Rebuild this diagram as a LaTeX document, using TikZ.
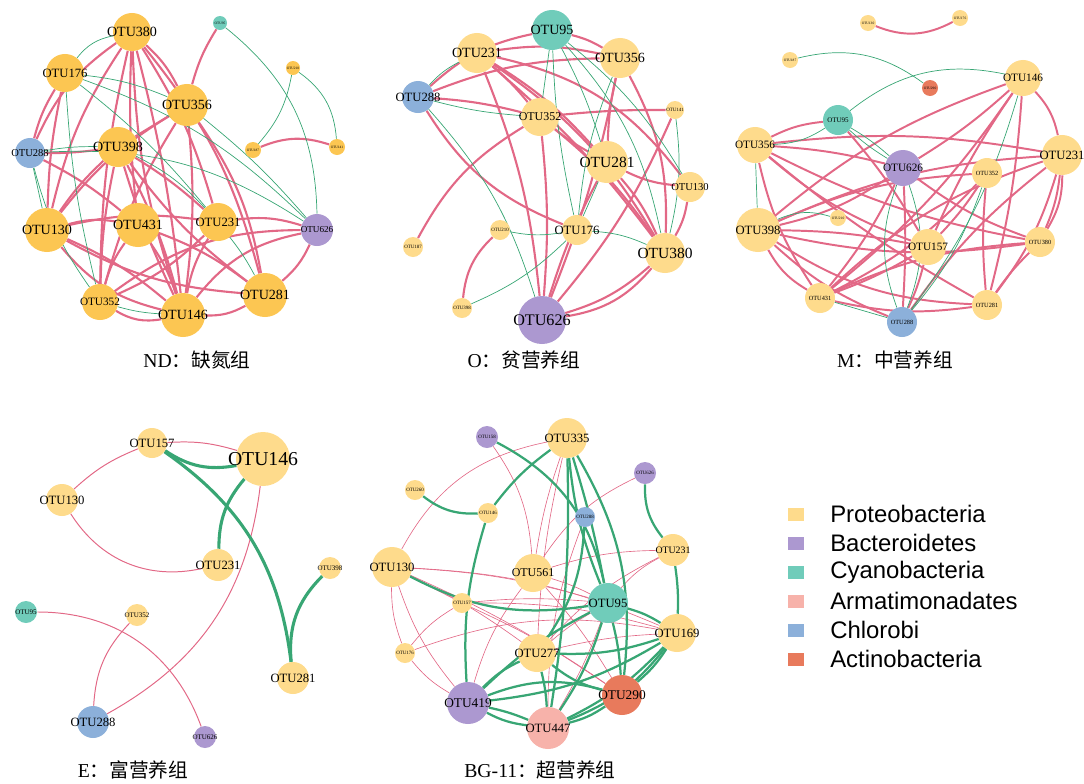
\documentclass[tikz,border=0pt]{standalone}
\usepackage{fontspec}
\setmainfont{Liberation Serif}
\newfontfamily\cjk{Noto Sans CJK SC}
\newfontfamily\legendfont{Liberation Sans}
\usetikzlibrary{backgrounds}

\definecolor{protND}{RGB}{252,198,82}
\definecolor{protL}{RGB}{254,219,140}
\definecolor{bactC}{RGB}{172,152,208}
\definecolor{cyanoC}{RGB}{112,204,186}
\definecolor{armaC}{RGB}{247,178,170}
\definecolor{chloC}{RGB}{140,176,218}
\definecolor{actiC}{RGB}{232,122,92}
\definecolor{linkpink}{RGB}{226,104,134}
\definecolor{linkgreen}{RGB}{56,166,116}

\begin{document}
\begin{tikzpicture}[
  x=0.025cm, y=-0.025cm,
  otu/.style={circle, inner sep=0pt, draw=none, minimum size=#1*0.25mm},
  proND/.style={otu=#1, fill=protND},
  proteo/.style={otu=#1, fill=protL},
  bactero/.style={otu=#1, fill=bactC},
  cyano/.style={otu=#1, fill=cyanoC},
  armati/.style={otu=#1, fill=armaC},
  chloro/.style={otu=#1, fill=chloC},
  actino/.style={otu=#1, fill=actiC},
  lab/.style={font=\fontsize{#1}{#1}\selectfont, inner sep=0pt},
  poslink/.style={draw=linkpink, line width=#1},
  poslink/.default=1.5pt,
  neglink/.style={draw=linkgreen, line width=#1},
  neglink/.default=0.5pt,
  caption/.style={font=\fontsize{14}{16}\selectfont},
  legsq/.style={draw=none, minimum width=16*0.25mm, minimum height=13*0.25mm, inner sep=0pt},
  legtxt/.style={anchor=west, inner sep=0pt, font=\legendfont\fontsize{17}{17}\selectfont}
]
\useasboundingbox (0,0) rectangle (1084,783);

% ---- ND panel
\node[proND=38, label={[lab=10]center:OTU380}] (nd380) at (132,32) {};
\node[proND=38, label={[lab=9]center:OTU176}] (nd176) at (65,73) {};
\node[proND=42, label={[lab=10]center:OTU356}] (nd356) at (187,105) {};
\node[proND=40, label={[lab=10]center:OTU398}] (nd398) at (118,147) {};
\node[chloro=30, label={[lab=7.5]center:OTU288}] (nd288) at (30,153) {};
\node[proND=44, label={[lab=10]center:OTU130}] (nd130) at (47,230) {};
\node[proND=44, label={[lab=10]center:OTU431}] (nd431) at (138,225) {};
\node[proND=38, label={[lab=9]center:OTU231}] (nd231) at (218,222) {};
\node[bactero=32, label={[lab=6.5]center:OTU626}] (nd626) at (317,230) {};
\node[proND=36, label={[lab=8]center:OTU352}] (nd352) at (100,302) {};
\node[proND=44, label={[lab=10]center:OTU146}] (nd146) at (183,315) {};
\node[proND=44, label={[lab=10]center:OTU281}] (nd281) at (265,295) {};
\node[cyano=14, label={[lab=2.5]center:OTU95}] (nd95) at (220,23) {};
\node[proND=14, label={[lab=2.5]center:OTU210}] (nd210) at (293,68) {};
\node[proND=16, label={[lab=2.5]center:OTU187}] (nd187) at (253,150) {};
\node[proND=16, label={[lab=2.5]center:OTU141}] (nd141) at (337,147) {};
\node[caption] (capND) at (197,360) {ND{\cjk ：缺氮组}};

\begin{scope}[on background layer]
  \draw[poslink] (nd380) to[bend right=10] (nd130);
  \draw[poslink] (nd380) to[bend right=4] (nd431);
  \draw[poslink] (nd380) to[bend left=4] (nd146);
  \draw[poslink] (nd380) to[bend right=8] (nd146);
  \draw[poslink] (nd380) to[bend right=6] (nd352);
  \draw[poslink] (nd380) to[bend left=12] (nd281);
  \draw[poslink] (nd380) to[bend left=8] (nd231);
  \draw[poslink] (nd380) to[bend right=15] (nd288);
  \draw[poslink] (nd380) to[bend left=10] (nd356);
  \draw[poslink] (nd176) to[bend right=8] (nd288);
  \draw[poslink] (nd176) to[bend right=5] (nd130);
  \draw[poslink] (nd95) to[bend right=8] (nd356);
  \draw[poslink] (nd356) to (nd398);
  \draw[poslink] (nd356) to[bend right=10] (nd130);
  \draw[poslink] (nd356) to[bend right=8] (nd352);
  \draw[poslink] (nd356) to[bend left=6] (nd146);
  \draw[poslink] (nd356) to[bend left=12] (nd281);
  \draw[poslink] (nd398) to[bend left=4] (nd288);
  \draw[poslink] (nd398) to[bend right=6] (nd130);
  \draw[poslink] (nd398) to[bend left=6] (nd146);
  \draw[poslink] (nd398) to[bend right=4] (nd146);
  \draw[poslink] (nd398) to[bend right=8] (nd281);
  \draw[poslink] (nd398) to[bend left=5] (nd231);
  \draw[poslink] (nd398) to[bend right=5] (nd352);
  \draw[poslink] (nd130) to[bend left=12] (nd431);
  \draw[poslink] (nd130) to[bend left=10] (nd231);
  \draw[poslink] (nd130) to[bend right=12] (nd281);
  \draw[poslink] (nd130) to[bend right=18] (nd146);
  \draw[poslink] (nd130) to[bend left=8] (nd146);
  \draw[poslink] (nd431) to[bend left=8] (nd146);
  \draw[poslink] (nd431) to[bend left=8] (nd281);
  \draw[poslink] (nd431) to[bend right=10] (nd352);
  \draw[poslink] (nd231) to[bend left=10] (nd352);
  \draw[poslink] (nd231) to[bend left=12] (nd626);
  \draw[poslink] (nd231) to[bend right=10] (nd146);
  \draw[poslink] (nd281) to[bend right=12] (nd626);
  \draw[poslink] (nd352) to[bend left=18] (nd626);
  \draw[poslink] (nd146) to[bend left=20] (nd626);
  \draw[poslink] (nd352) to[bend right=20] (nd146);
  \draw[poslink] (nd146) to[bend right=15] (nd281);
  \draw[poslink] (nd187) to[bend left=20] (nd141);
  \draw[poslink] (nd288) to[bend left=6] (nd431);
  \draw[neglink] (nd380) to[bend right=20] (nd176);
  \draw[neglink] (nd176) to[bend left=8] (nd356);
  \draw[neglink] (nd176) to[bend left=6] (nd231);
  \draw[neglink] (nd176) to[bend left=12] (nd626);
  \draw[neglink] (nd176) to[bend right=5] (nd352);
  \draw[neglink] (nd288) to[bend left=5] (nd398);
  \draw[neglink] (nd288) to[bend left=18] (nd626);
  \draw[neglink] (nd288) to[bend right=10] (nd352);
  \draw[neglink] (nd288) to (nd130);
  \draw[neglink] (nd356) to[bend left=5] (nd626);
  \draw[neglink] (nd95) to[bend left=25] (nd626);
  \draw[neglink] (nd210) to[bend left=15] (nd187);
  \draw[neglink] (nd210) to[bend left=25] (nd141);
  \draw[neglink] (nd231) to[bend left=5] (nd281);
  \draw[neglink] (nd352) to[bend right=6] (nd146);
  \draw[neglink] (nd398) to[bend left=10] (nd231);
\end{scope}

% ---- O panel
\node[cyano=40, label={[lab=10]center:OTU95}] (o95) at (552,30) {};
\node[proteo=40, label={[lab=10]center:OTU231}] (o231) at (477,53) {};
\node[proteo=40, label={[lab=10]center:OTU356}] (o356) at (620,58) {};
\node[chloro=32, label={[lab=9]center:OTU288}] (o288) at (418,97) {};
\node[proteo=38, label={[lab=8.5]center:OTU352}] (o352) at (540,117) {};
\node[proteo=18, label={[lab=3.5]center:OTU141}] (o141) at (675,110) {};
\node[proteo=42, label={[lab=11]center:OTU281}] (o281) at (607,162) {};
\node[proteo=30, label={[lab=7.5]center:OTU130}] (o130) at (690,187) {};
\node[proteo=30, label={[lab=9]center:OTU176}] (o176) at (577,230) {};
\node[proteo=20, label={[lab=3.5]center:OTU210}] (o210) at (500,230) {};
\node[proteo=20, label={[lab=3.5]center:OTU187}] (o187) at (413,247) {};
\node[proteo=40, label={[lab=11]center:OTU380}] (o380) at (665,253) {};
\node[proteo=20, label={[lab=3.5]center:OTU398}] (o398) at (462,308) {};
\node[bactero=48, label={[lab=11.5]center:OTU626}] (o626) at (542,320) {};
\node[caption] (capO) at (524,360) {O{\cjk ：贫营养组}};

\begin{scope}[on background layer]
  \draw[poslink] (o231) to[bend left=10] (o356);
  \draw[poslink] (o231) to[bend left=8] (o281);
  \draw[poslink] (o231) to[bend left=12] (o380);
  \draw[poslink] (o231) to[bend left=6] (o380);
  \draw[poslink] (o231) to[bend left=8] (o626);
  \draw[poslink] (o231) to[bend left=20] (o130);
  \draw[poslink] (o231) to[bend left=5] (o352);
  \draw[poslink] (o95) to[bend right=15] (o288);
  \draw[poslink] (o95) to[bend left=8] (o356);
  \draw[poslink] (o288) to[bend left=5] (o352);
  \draw[poslink] (o288) to[bend right=18] (o176);
  \draw[poslink] (o288) to[bend left=10] (o356);
  \draw[poslink] (o352) to[bend right=15] (o187);
  \draw[poslink] (o352) to[bend left=5] (o626);
  \draw[poslink] (o352) to[bend left=8] (o380);
  \draw[poslink] (o352) to[bend left=3] (o141);
  \draw[poslink] (o352) to[bend right=5] (o281);
  \draw[poslink] (o356) to[bend left=5] (o626);
  \draw[poslink] (o356) to[bend left=15] (o380);
  \draw[poslink] (o356) to[bend right=5] (o281);
  \draw[poslink] (o281) to[bend right=5] (o626);
  \draw[poslink] (o281) to[bend left=8] (o380);
  \draw[poslink] (o281) to[bend right=10] (o130);
  \draw[poslink] (o130) to[bend left=10] (o380);
  \draw[poslink] (o380) to[bend left=12] (o626);
  \draw[poslink] (o380) to[bend left=20] (o626);
  \draw[poslink] (o210) to[bend right=20] (o398);
  \draw[poslink] (o141) to[bend left=8] (o626);
  \draw[neglink] (o95) to[bend right=5] (o176);
  \draw[neglink] (o95) to[bend left=5] (o281);
  \draw[neglink] (o95) to[bend left=10] (o130);
  \draw[neglink] (o95) to[bend left=15] (o380);
  \draw[neglink] (o95) to (o352);
  \draw[neglink] (o288) to[bend left=10] (o231);
  \draw[neglink] (o288) to[bend left=12] (o626);
  \draw[neglink] (o288) to[bend right=5] (o352);
  \draw[neglink] (o356) to[bend right=8] (o176);
  \draw[neglink] (o141) to[bend left=10] (o380);
  \draw[neglink] (o176) to[bend left=10] (o380);
  \draw[neglink] (o176) to[bend left=10] (o210);
  \draw[neglink] (o398) to[bend right=10] (o176);
  \draw[neglink] (o281) to (o176);
\end{scope}

% ---- M panel
\node[proteo=16, label={[lab=2.5]center:OTU130}] (m130) at (868,23) {};
\node[proteo=16, label={[lab=2.5]center:OTU176}] (m176) at (960,18) {};
\node[proteo=16, label={[lab=2.5]center:OTU187}] (m187) at (790,60) {};
\node[actino=16, label={[lab=2.5]center:OTU290}] (m290) at (930,88) {};
\node[cyano=30, label={[lab=5]center:OTU95}] (m95) at (838,120) {};
\node[proteo=36, label={[lab=8]center:OTU146}] (m146) at (1023,78) {};
\node[proteo=36, label={[lab=8]center:OTU356}] (m356) at (755,145) {};
\node[bactero=36, label={[lab=8]center:OTU626}] (m626) at (903,168) {};
\node[proteo=40, label={[lab=9]center:OTU231}] (m231) at (1062,155) {};
\node[proteo=30, label={[lab=4.5]center:OTU352}] (m352) at (987,173) {};
\node[proteo=16, label={[lab=2.5]center:OTU210}] (m210) at (838,218) {};
\node[proteo=44, label={[lab=9]center:OTU398}] (m398) at (758,230) {};
\node[proteo=36, label={[lab=8]center:OTU157}] (m157) at (928,247) {};
\node[proteo=30, label={[lab=4.5]center:OTU380}] (m380) at (1040,242) {};
\node[proteo=30, label={[lab=4.5]center:OTU431}] (m431) at (820,298) {};
\node[proteo=30, label={[lab=4.5]center:OTU281}] (m281) at (987,305) {};
\node[chloro=30, label={[lab=4.5]center:OTU288}] (m288) at (902,322) {};
\node[caption] (capM) at (895,360) {M{\cjk ：中营养组}};

\begin{scope}[on background layer]
  \draw[poslink=1.4pt] (m130) to[bend right=25] (m176);
  \draw[poslink=1.4pt] (m356) to[bend left=10] (m95);
  \draw[poslink=1.4pt] (m356) to[bend left=5] (m626);
  \draw[poslink=1.4pt] (m356) to[bend left=8] (m231);
  \draw[poslink=1.4pt] (m356) to[bend right=10] (m157);
  \draw[poslink=1.4pt] (m356) to[bend right=8] (m380);
  \draw[poslink=1.4pt] (m356) to[bend right=10] (m431);
  \draw[poslink=1.4pt] (m356) to[bend right=5] (m281);
  \draw[poslink=1.4pt] (m95) to[bend left=5] (m157);
  \draw[poslink=1.4pt] (m626) to[bend right=5] (m146);
  \draw[poslink=1.4pt] (m626) to[bend left=10] (m398);
  \draw[poslink=1.4pt] (m626) to[bend left=6] (m431);
  \draw[poslink=1.4pt] (m626) to[bend right=8] (m380);
  \draw[poslink=1.4pt] (m626) to[bend left=3] (m288);
  \draw[poslink=1.4pt] (m146) to[bend left=8] (m431);
  \draw[poslink=1.4pt] (m146) to[bend right=5] (m157);
  \draw[poslink=1.4pt] (m146) to[bend left=5] (m281);
  \draw[poslink=1.4pt] (m146) to[bend left=15] (m231);
  \draw[poslink=1.4pt] (m146) to[bend right=10] (m398);
  \draw[poslink=1.4pt] (m231) to[bend right=10] (m398);
  \draw[poslink=1.4pt] (m231) to[bend right=12] (m431);
  \draw[poslink=1.4pt] (m231) to[bend left=10] (m281);
  \draw[poslink=1.4pt] (m231) to[bend left=8] (m380);
  \draw[poslink=1.4pt] (m231) to[bend left=15] (m380);
  \draw[poslink=1.4pt] (m231) to[bend right=8] (m288);
  \draw[poslink=1.4pt] (m398) to[bend left=10] (m352);
  \draw[poslink=1.4pt] (m398) to[bend right=10] (m380);
  \draw[poslink=1.4pt] (m398) to[bend right=15] (m281);
  \draw[poslink=1.4pt] (m398) to[bend right=15] (m431);
  \draw[poslink=1.4pt] (m398) to[bend right=10] (m288);
  \draw[poslink=1.4pt] (m398) to[bend left=5] (m157);
  \draw[poslink=1.4pt] (m157) to[bend left=5] (m431);
  \draw[poslink=1.4pt] (m157) to[bend right=5] (m352);
  \draw[poslink=1.4pt] (m157) to[bend left=5] (m288);
  \draw[poslink=1.4pt] (m431) to[bend right=10] (m281);
  \draw[poslink=1.4pt] (m431) to[bend left=10] (m380);
  \draw[poslink=1.4pt] (m380) to[bend right=5] (m281);
  \draw[poslink=1.4pt] (m352) to[bend left=10] (m431);
  \draw[poslink=1.4pt] (m352) to[bend right=5] (m281);
  \draw[neglink] (m187) to[bend left=25] (m290);
  \draw[neglink] (m95) to[bend left=25] (m146);
  \draw[neglink] (m95) to[bend left=15] (m356);
  \draw[neglink] (m95) to[bend left=5] (m626);
  \draw[neglink] (m95) to[bend right=5] (m626);
  \draw[neglink] (m398) to[bend left=20] (m210);
  \draw[neglink] (m356) to (m398);
  \draw[neglink] (m626) to[bend right=20] (m288);
  \draw[neglink] (m626) to[bend left=20] (m288);
  \draw[neglink] (m431) to (m288);
  \draw[neglink] (m352) to[bend left=10] (m288);
  \draw[neglink] (m146) to[bend left=10] (m288);
\end{scope}

% ---- E panel
\node[proteo=30, label={[lab=9]center:OTU157}] (e157) at (152,443) {};
\node[proteo=54, label={[lab=14]center:OTU146}] (e146) at (263,459) {};
\node[proteo=32, label={[lab=9]center:OTU130}] (e130) at (62,500) {};
\node[proteo=32, label={[lab=9]center:OTU231}] (e231) at (218,565) {};
\node[proteo=22, label={[lab=5]center:OTU398}] (e398) at (330,568) {};
\node[cyano=22, label={[lab=5]center:OTU95}] (e95) at (26,612) {};
\node[proteo=22, label={[lab=5]center:OTU352}] (e352) at (137,615) {};
\node[proteo=32, label={[lab=9]center:OTU281}] (e281) at (293,678) {};
\node[chloro=32, label={[lab=9]center:OTU288}] (e288) at (93,722) {};
\node[bactero=22, label={[lab=5]center:OTU626}] (e626) at (205,737) {};
\node[caption] (capE) at (133,770) {E{\cjk ：富营养组}};

\begin{scope}[on background layer]
  \draw[poslink=0.7pt] (e157) to[bend left=10] (e146);
  \draw[poslink=0.7pt] (e157) to[bend right=10] (e130);
  \draw[poslink=0.7pt] (e130) to[bend right=35] (e231);
  \draw[poslink=0.7pt] (e146) to[bend left=27] (e288);
  \draw[poslink=0.7pt] (e95) to[bend left=35] (e626);
  \draw[poslink=0.7pt] (e352) to[bend right=20] (e288);
  \draw[neglink=2.2pt] (e157) to[bend right=22] (e146);
  \draw[neglink=2.2pt] (e146) to[bend right=20] (e231);
  \draw[neglink=2.2pt] (e157) to[bend left=24] (e281);
  \draw[neglink=2.2pt] (e398) to[bend right=25] (e281);
\end{scope}

% ---- BG-11 panel
\node[bactero=22, label={[lab=3.5]center:OTU158}] (bg158) at (487,437) {};
\node[proteo=40, label={[lab=9]center:OTU335}] (bg335) at (567,438) {};
\node[bactero=22, label={[lab=3.5]center:OTU626}] (bg626) at (645,473) {};
\node[proteo=20, label={[lab=3.5]center:OTU260}] (bg260) at (415,490) {};
\node[proteo=20, label={[lab=3.5]center:OTU146}] (bg146) at (488,513) {};
\node[chloro=20, label={[lab=3.5]center:OTU288}] (bg288) at (585,517) {};
\node[proteo=40, label={[lab=9]center:OTU130}] (bg130) at (392,567) {};
\node[proteo=38, label={[lab=8.5]center:OTU561}] (bg561) at (533,573) {};
\node[proteo=32, label={[lab=7]center:OTU231}] (bg231) at (673,550) {};
\node[cyano=40, label={[lab=9]center:OTU95}] (bg95) at (608,603) {};
\node[proteo=20, label={[lab=3.5]center:OTU157}] (bg157) at (462,603) {};
\node[proteo=38, label={[lab=9]center:OTU169}] (bg169) at (677,633) {};
\node[proteo=20, label={[lab=3.5]center:OTU176}] (bg176) at (405,653) {};
\node[proteo=38, label={[lab=9]center:OTU277}] (bg277) at (537,653) {};
\node[actino=40, label={[lab=9.5]center:OTU290}] (bg290) at (622,695) {};
\node[bactero=42, label={[lab=9.5]center:OTU419}] (bg419) at (468,703) {};
\node[armati=42, label={[lab=9]center:OTU447}] (bg447) at (548,728) {};
\node[caption] (capBG) at (540,770) {BG-11{\cjk ：超营养组}};

\begin{scope}[on background layer]
  \draw[poslink=0.45pt] (bg130) to[bend left=25] (bg335);
  \draw[poslink=0.45pt] (bg130) to[bend left=5] (bg277);
  \draw[poslink=0.45pt] (bg130) to[bend right=10] (bg176);
  \draw[poslink=0.45pt] (bg130) to (bg157);
  \draw[poslink=0.45pt] (bg130) to[bend left=6] (bg95);
  \draw[poslink=0.45pt] (bg130) to[bend left=10] (bg169);
  \draw[poslink=0.45pt] (bg130) to[bend left=5] (bg290);
  \draw[poslink=0.45pt] (bg130) to[bend right=10] (bg419);
  \draw[poslink=0.45pt] (bg158) to[bend left=15] (bg561);
  \draw[poslink=0.45pt] (bg335) to[bend right=5] (bg561);
  \draw[poslink=0.45pt] (bg335) to[bend right=5] (bg277);
  \draw[poslink=0.45pt] (bg626) to[bend right=15] (bg561);
  \draw[poslink=0.45pt] (bg231) to[bend right=10] (bg95);
  \draw[poslink=0.45pt] (bg231) to[bend right=10] (bg277);
  \draw[poslink=0.45pt] (bg231) to[bend right=8] (bg561);
  \draw[poslink=0.45pt] (bg561) to[bend left=5] (bg95);
  \draw[poslink=0.45pt] (bg561) to[bend left=5] (bg290);
  \draw[poslink=0.45pt] (bg561) to[bend right=10] (bg419);
  \draw[poslink=0.45pt] (bg157) to[bend right=10] (bg176);
  \draw[poslink=0.45pt] (bg157) to[bend left=5] (bg95);
  \draw[poslink=0.45pt] (bg157) to[bend left=8] (bg169);
  \draw[poslink=0.45pt] (bg157) to[bend left=5] (bg290);
  \draw[poslink=0.45pt] (bg176) to[bend left=15] (bg169);
  \draw[poslink=0.45pt] (bg176) to[bend right=10] (bg419);
  \draw[poslink=0.45pt] (bg277) to[bend left=5] (bg95);
  \draw[poslink=0.45pt] (bg447) to[bend right=5] (bg95);
  \draw[poslink=0.45pt] (bg277) to[bend left=5] (bg169);
  \draw[poslink=0.45pt] (bg288) to[bend right=10] (bg447);
  \draw[neglink=1.6pt] (bg158) to[bend left=25] (bg95);
  \draw[neglink=1.6pt] (bg335) to[bend right=8] (bg146);
  \draw[neglink=1.6pt] (bg260) to[bend right=20] (bg146);
  \draw[neglink=1.6pt] (bg146) to[bend right=10] (bg419);
  \draw[neglink=1.6pt] (bg335) to[bend right=8] (bg95);
  \draw[neglink=1.6pt] (bg335) to[bend left=3] (bg95);
  \draw[neglink=1.6pt] (bg335) to[bend left=18] (bg290);
  \draw[neglink=1.6pt] (bg335) to[bend left=5] (bg447);
  \draw[neglink=1.6pt] (bg626) to[bend right=20] (bg231);
  \draw[neglink=1.6pt] (bg231) to[bend left=5] (bg169);
  \draw[neglink=1.6pt] (bg130) to[bend right=18] (bg95);
  \draw[neglink=1.6pt] (bg95) to[bend left=8] (bg169);
  \draw[neglink=1.6pt] (bg95) to[bend left=8] (bg447);
  \draw[neglink=1.6pt] (bg95) to[bend left=5] (bg290);
  \draw[neglink=1.6pt] (bg95) to[bend right=8] (bg419);
  \draw[neglink=1.6pt] (bg288) to[bend left=15] (bg277);
  \draw[neglink=1.6pt] (bg277) to[bend right=12] (bg290);
  \draw[neglink=1.6pt] (bg277) to[bend right=10] (bg419);
  \draw[neglink=1.6pt] (bg277) to[bend left=5] (bg447);
  \draw[neglink=1.6pt] (bg419) to[bend right=10] (bg447);
  \draw[neglink=1.6pt] (bg419) to[bend left=5] (bg447);
  \draw[neglink=1.6pt] (bg419) to[bend left=18] (bg290);
  \draw[neglink=1.6pt] (bg447) to[bend right=10] (bg290);
  \draw[neglink=1.6pt] (bg169) to[bend left=8] (bg290);
  \draw[neglink=1.6pt] (bg169) to[bend left=15] (bg447);
  \draw[neglink=1.6pt] (bg169) to[bend left=10] (bg447);
  \draw[neglink=1.6pt] (bg169) to[bend left=12] (bg419);
  \draw[neglink=1.6pt] (bg169) to[bend left=10] (bg277);
\end{scope}

% ---- legend
\node[legsq, fill=protL] (lg1) at (796,514) {};
\node[legsq, fill=bactC] (lg2) at (796,543) {};
\node[legsq, fill=cyanoC] (lg3) at (796,572) {};
\node[legsq, fill=armaC] (lg4) at (796,601) {};
\node[legsq, fill=chloC] (lg5) at (796,630) {};
\node[legsq, fill=actiC] (lg6) at (796,659) {};
\node[legtxt] (lt1) at (830,514) {Proteobacteria};
\node[legtxt] (lt2) at (830,543) {Bacteroidetes};
\node[legtxt] (lt3) at (830,572) {Cyanobacteria};
\node[legtxt] (lt4) at (830,601) {Armatimonadates};
\node[legtxt] (lt5) at (830,630) {Chlorobi};
\node[legtxt] (lt6) at (830,659) {Actinobacteria};
\end{tikzpicture}
\end{document}
